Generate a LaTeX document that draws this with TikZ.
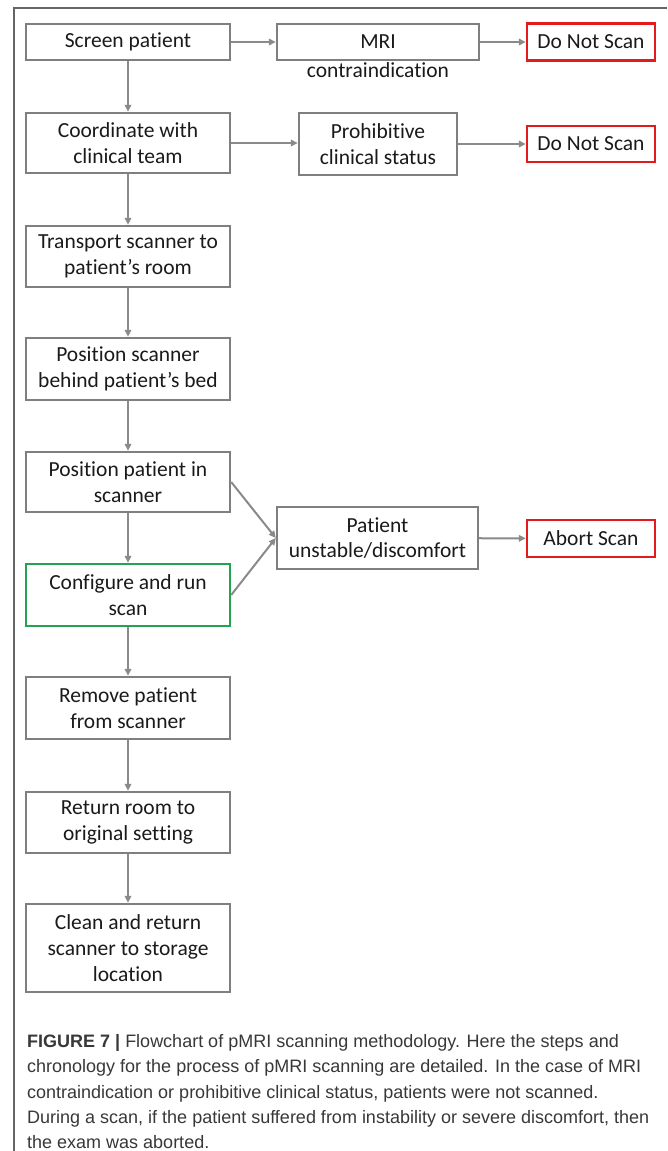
\documentclass[tikz,border=0pt]{standalone}
\usepackage{fontspec}
\setmainfont{Carlito}[RawFeature={-liga;-clig;-calt;-dlig}]
\newfontfamily\capfont{Liberation Sans}
\usetikzlibrary{arrows.meta}
\definecolor{boxgray}{HTML}{7F7F7F}
\definecolor{arrgray}{HTML}{8A8A8A}
\definecolor{redb}{HTML}{E41A1C}
\definecolor{greenb}{HTML}{23A450}
\definecolor{framegray}{HTML}{666666}
\definecolor{captext}{HTML}{383838}
\definecolor{boxtext}{HTML}{1A1A1A}
\tikzset{
  stepbox/.style={draw=boxgray, line width=2.4pt, fill=white, align=center, inner sep=0pt,
    font=\fontsize{21.5}{25.8}\selectfont, text=boxtext},
  stopbox/.style={stepbox, draw=redb},
  runbox/.style={stepbox, draw=greenb},
  flow/.style={draw=arrgray, line width=2pt, -{Triangle[length=7pt,width=6.5pt]}},
  capline/.style={anchor=base west, inner sep=0pt, font=\capfont\fontsize{18}{22}\selectfont, text=captext},
  framestyle/.style={draw=framegray, line width=1.4pt}
}
\begin{document}
\begin{tikzpicture}[x=1pt,y=-1pt]
\useasboundingbox (0,0) rectangle (667,1151);
\fill[white] (0,0) rectangle (667,1151);
% frame
\coordinate (fbl) at (14,1151);
\coordinate (ftl) at (14,8);
\coordinate (ftr) at (667,8);
\draw[framestyle] (fbl) -- (ftl) -- (ftr);

% left column
\node[stepbox, minimum width=204pt, minimum height=36pt] (screen) at (128,42) {Screen pat\kern0pt ient};
\node[stepbox, minimum width=204pt, minimum height=60pt] (coord) at (128,143) {Coordinate with\\clinical team};
\node[stepbox, minimum width=204pt, minimum height=61pt] (transport) at (128,256.5) {Transport scanner to\\pat\kern0pt ient’s room};
\node[stepbox, minimum width=204pt, minimum height=62pt] (posscan) at (128,369) {Posit\kern0pt ion scanner\\behind pat\kern0pt ient’s bed};
\node[stepbox, minimum width=204pt, minimum height=60pt] (pospat) at (128,482) {Posit\kern0pt ion pat\kern0pt ient in\\scanner};
\node[runbox, minimum width=204pt, minimum height=62pt] (config) at (128,595) {Configure and run\\scan};
\node[stepbox, minimum width=204pt, minimum height=62pt] (remove) at (128,708) {Remove pat\kern0pt ient\\from scanner};
\node[stepbox, minimum width=204pt, minimum height=61pt] (return) at (128,822.5) {Return room to\\original set\kern0pt t\kern0pt ing};
\node[stepbox, minimum width=204pt, minimum height=88pt] (clean) at (128,948) {Clean and return\\scanner to storage\\locat\kern0pt ion};

% middle column
\node[stepbox, minimum width=202pt, minimum height=36pt] (mri) at (378,42) {MRI};
\node[inner sep=0pt, font=\fontsize{21.5}{25.8}\selectfont, text=boxtext] (mrilbl) at (378,70) {contraindicat\kern0pt ion};
\node[stepbox, minimum width=158pt, minimum height=62pt] (prohib) at (378,144) {Prohibit\kern0pt ive\\clinical status};
\node[stepbox, minimum width=201pt, minimum height=62pt] (unstable) at (377.5,538) {Pat\kern0pt ient\\unstable/discomfort};

% right column
\node[stopbox, minimum width=128pt, minimum height=37pt] (dns1) at (591,42) {Do Not Scan};
\node[stopbox, minimum width=128pt, minimum height=36pt] (dns2) at (591,144) {Do Not Scan};
\node[stopbox, minimum width=128pt, minimum height=37pt] (abort) at (591,538.5) {Abort Scan};

% connectors
\draw[flow] (screen) -- (mri);
\draw[flow] (mri) -- (dns1);
\draw[flow] (screen) -- (coord);
\draw[flow] (coord.east) -- (prohib.west |- coord.east);
\draw[flow] (prohib) -- (dns2);
\draw[flow] (coord) -- (transport);
\draw[flow] (transport) -- (posscan);
\draw[flow] (posscan) -- (pospat);
\draw[flow] (pospat) -- (config);
\draw[flow] (config) -- (remove);
\draw[flow] (remove) -- (return);
\draw[flow] (return) -- (clean);
\draw[flow] (pospat.east) -- (unstable.west);
\draw[flow] (config.east) -- (unstable.west);
\draw[flow] (unstable) -- (abort);

% caption
\node[capline] (cap1) at (27,1047) {\textbf{FIGURE 7 |} Flowchart of pMRI scanning methodology. Here the steps and};
\node[capline] (cap2) at (27,1072.5) {chronology for the process of pMRI scanning are detailed. In the case of MRI};
\node[capline] (cap3) at (27,1098) {contraindication or prohibitive clinical status, patients were not scanned.};
\node[capline] (cap4) at (27,1123) {During a scan, if the patient suffered from instability or severe discomfort, then};
\node[capline] (cap5) at (27,1148) {the exam was aborted.};
\end{tikzpicture}
\end{document}
